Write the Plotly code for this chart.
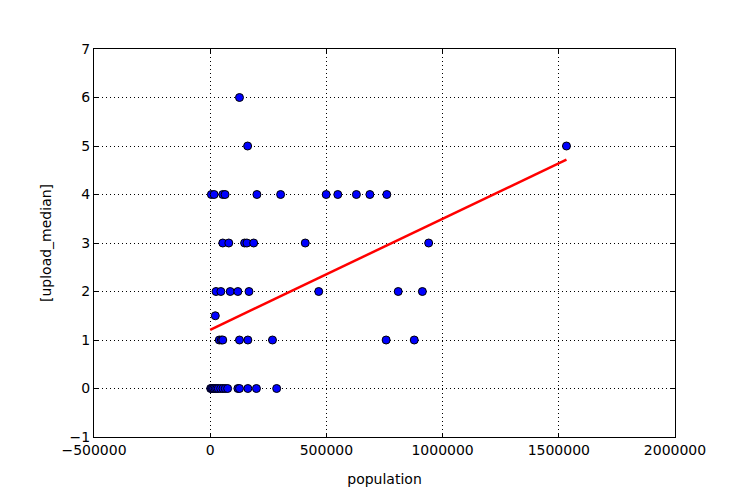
import plotly.graph_objects as go

# Data
population = [
    # upload_median = 0
    2000, 6000, 10000, 15000, 22000, 28000, 35000, 45000, 55000, 65000, 75000,
    119000, 126000, 162000, 199000, 286000,
    # upload_median = 1
    39000, 48000, 54000, 126000, 162000, 268000, 757000, 878000,
    # upload_median = 1.5
    22000,
    # upload_median = 2
    25000, 46000, 86000, 119000, 167000, 467000, 809000, 913000,
    # upload_median = 3
    54000, 80000, 148000, 158000, 187000, 409000, 940000,
    # upload_median = 4
    5000, 17000, 54000, 64000, 201000, 303000, 499000, 549000, 629000, 687000, 760000,
    # upload_median = 5
    161000, 1533000,
    # upload_median = 6
    126000,
]
upload_median = (
    [0] * 16 + [1] * 8 + [1.5] + [2] * 8 + [3] * 7 + [4] * 11 + [5] * 2 + [6]
)

# Fitted regression line
fit_x = [0, 1533000]
fit_y = [1.21, 4.72]

x_ticks = [-500000, 0, 500000, 1000000, 1500000, 2000000]
x_tick_labels = ["\u2212500000", "0", "500000", "1000000", "1500000", "2000000"]
y_ticks = [-1, 0, 1, 2, 3, 4, 5, 6, 7]
y_tick_labels = ["\u22121", "0", "1", "2", "3", "4", "5", "6", "7"]

fig = go.Figure()
fig.add_trace(go.Scatter(
    x=population, y=upload_median, mode="markers",
    marker=dict(color="#0000ff", size=8, line=dict(color="black", width=1)),
    showlegend=False, cliponaxis=False,
))
fig.add_trace(go.Scatter(
    x=fit_x, y=fit_y, mode="lines",
    line=dict(color="#ff0000", width=2.5),
    showlegend=False,
))

axis_common = dict(
    showline=True, linecolor="black", linewidth=1, mirror="allticks",
    ticks="inside", ticklen=4, tickcolor="black", tickwidth=1,
    showgrid=True, gridcolor="black", gridwidth=1, griddash="1px,3px",
    zeroline=False,
    tickfont=dict(family="DejaVu Sans", size=14, color="black"),
)

fig.update_layout(
    width=742, height=492,
    margin=dict(l=86, r=75, t=41, b=63),
    paper_bgcolor="white", plot_bgcolor="white",
    font=dict(family="DejaVu Sans", size=14, color="black"),
    xaxis=dict(
        range=[-500000, 2000000], tickvals=x_ticks, ticktext=x_tick_labels,
        title=dict(text="population", font=dict(size=14), standoff=17),
        **axis_common,
    ),
    yaxis=dict(
        range=[-1, 7], tickvals=y_ticks, ticktext=y_tick_labels,
        title=dict(text="[upload_median]", font=dict(size=14), standoff=14),
        **axis_common,
    ),
)

fig.write_html("out.html")
